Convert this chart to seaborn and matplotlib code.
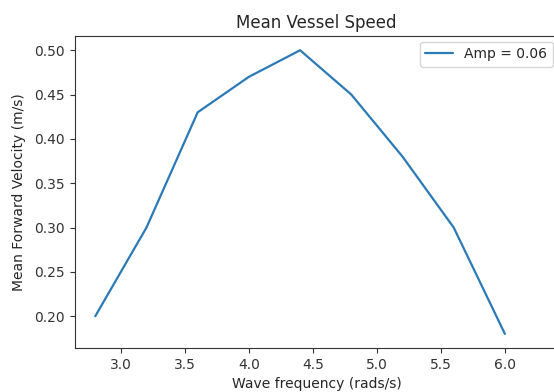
import matplotlib
matplotlib.use("Agg")
import matplotlib.pyplot as plt
import seaborn as sns

# Mean forward velocity measured at each wave frequency (amplitude 0.06)
wave_freq = [2.8, 3.2, 3.6, 4.0, 4.4, 4.8, 5.2, 5.6, 6.0]
mean_velocity = [0.20, 0.30, 0.43, 0.47, 0.50, 0.45, 0.38, 0.30, 0.18]
series_label = "Amp = 0.06"

sns.set_style("ticks")
plt.rcParams.update({
    "font.family": ["DejaVu Sans"],
    "font.size": 10,
    "axes.titlesize": 12,
    "axes.labelsize": 10,
    "xtick.labelsize": 10,
    "ytick.labelsize": 10,
    "legend.fontsize": 10,
    "axes.edgecolor": "#333333",
    "xtick.color": "#333333",
    "ytick.color": "#333333",
    "text.color": "#262626",
    "axes.labelcolor": "#262626",
})

fig = plt.figure(figsize=(5.54, 3.92), dpi=100)
ax = fig.add_axes([0.135, 0.112, 0.873, 0.796])

sns.lineplot(x=wave_freq, y=mean_velocity, ax=ax, color="#2a7ab8",
             linewidth=1.6, label=series_label)

ax.set_xlim(2.64, 6.418)
ax.set_ylim(0.164, 0.516)
ax.set_xticks([3.0, 3.5, 4.0, 4.5, 5.0, 5.5, 6.0])
ax.set_yticks([0.20, 0.25, 0.30, 0.35, 0.40, 0.45, 0.50])
ax.set_title("Mean Vessel Speed")
ax.set_xlabel("Wave frequency (rads/s)")
ax.set_ylabel("Mean Forward Velocity (m/s)", labelpad=6)
ax.spines["top"].set_visible(True)
ax.spines["right"].set_visible(False)
ax.legend(loc="upper right", frameon=True, borderaxespad=0.4)

fig.savefig("out.png", dpi=100)
